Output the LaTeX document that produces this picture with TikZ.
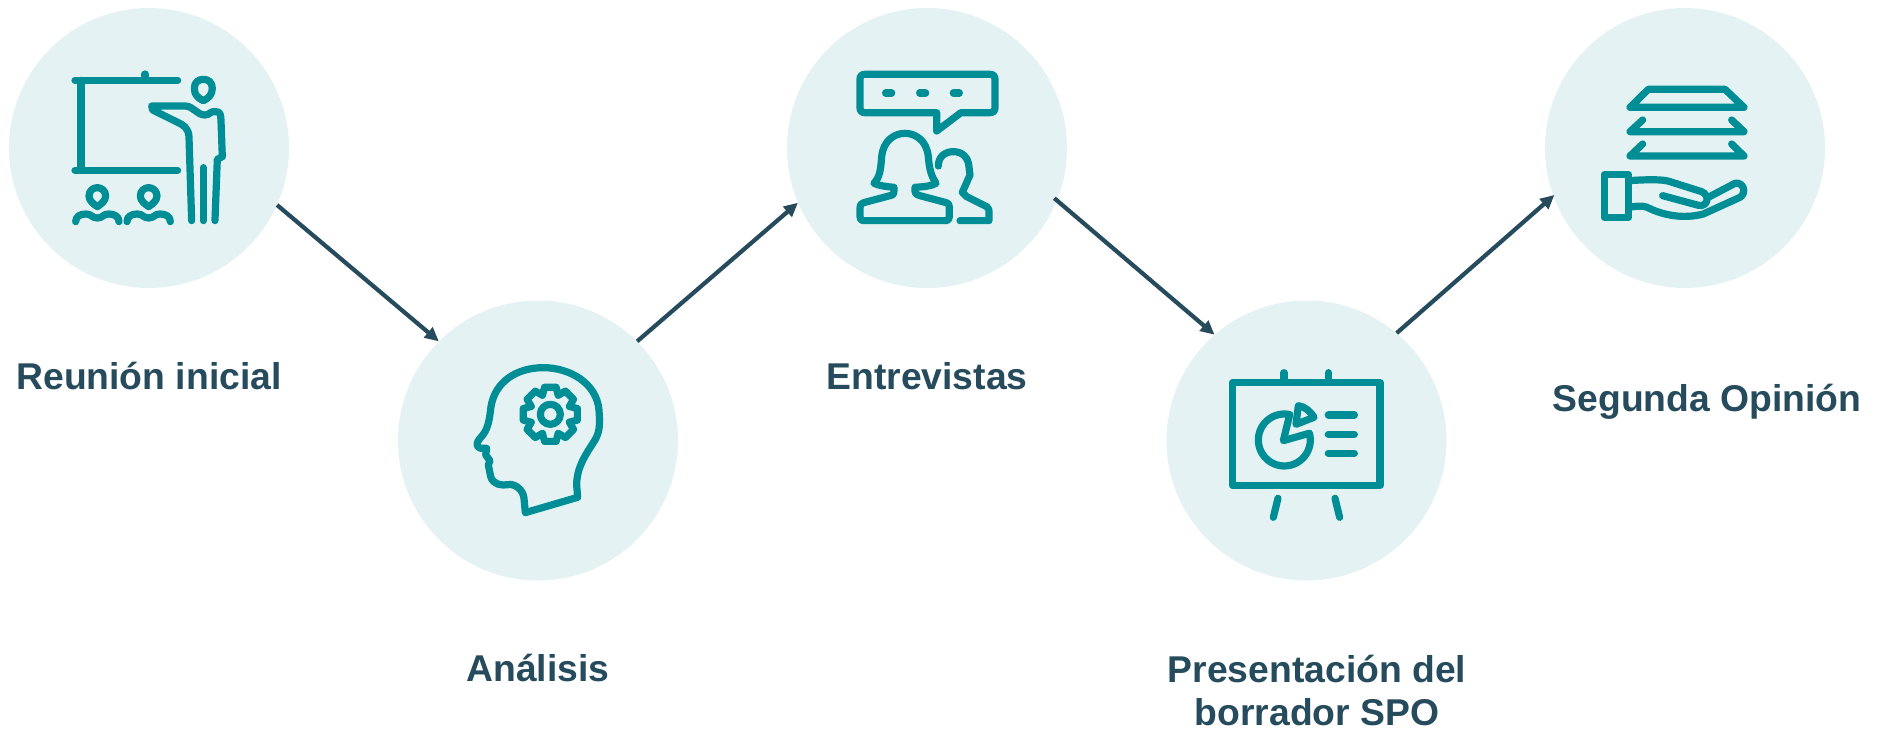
\documentclass[tikz,border=0pt]{standalone}
\usepackage{fontspec}
\setmainfont{Liberation Sans}
\usetikzlibrary{arrows.meta}
\definecolor{teal1}{HTML}{008E96}
\definecolor{disc}{HTML}{E4F2F3}
\definecolor{ink}{HTML}{254B5C}
\tikzset{
  disc/.style={circle,fill=disc,draw=none,minimum size=280pt,inner sep=0pt},
  lbl/.style={text=ink,font=\fontsize{37.3}{43}\selectfont\bfseries,align=center,inner sep=0pt},
  link/.style={draw=ink,line width=4.2pt,-{Triangle[length=14pt,width=13pt]}},
  ico/.style={draw=teal1,line width=7.2pt,line cap=round,line join=round},
  zoomed/.style={x=0.3333pt,y=-0.3333pt},
}
\begin{document}
\begin{tikzpicture}[x=1pt,y=-1pt]
\useasboundingbox (0,0) rectangle (1883,730);
\node[disc] (c1) at (149,148) {};
\node[disc] (c2) at (538,440.5) {};
\node[disc] (c3) at (927,148) {};
\node[disc] (c4) at (1306.5,440.5) {};
\node[disc] (c5) at (1685,148) {};
\draw[link] (c1.-24.5) -- (c2.135.4);
\draw[link] (c2.45.5) -- (c3.203.7);
\draw[link,shorten <=-3.5pt] (c3.-22.6) -- (c4.131.8);
\draw[link,shorten >=-1.5pt] (c4.50.5) -- (c5.200.6);
\node[lbl] (t1) at (149,376) {Reunión inicial};
\node[lbl] (t2) at (538,668) {Análisis};
\node[lbl] (t3) at (927,376) {Entrevistas};
\node[lbl] (t4) at (1317,690) {Presentación del\\borrador SPO};
\node[lbl] (t5) at (1707,402) {Segunda Opinión};
% icon 1
\begin{scope}[zoomed,every path/.style={ico}]
\draw (225,241) -- (533,241);
\draw (435,222) -- (435,241);
\draw (243,241) -- (243,511);
\draw (225,511) -- (533,511);
\draw (610,302) .. controls (595,295) and (583,285) .. (583,265) .. controls (583,247) and (595,238) .. (610,238) .. controls (625,238) and (637,247) .. (637,265) .. controls (637,285) and (625,295) .. (610,302) -- cycle;
\draw (575,662) -- (567,410) .. controls (566,385) and (550,375) .. (535,368) -- (458,330) -- (455,318) -- (555,318) .. controls (580,318) and (590,345) .. (615,345) .. controls (630,345) and (630,333) .. (645,335) .. controls (660,335) and (662,340) .. (663,360) -- (667,470) -- (652,478) -- (645,662);
\draw (610,503) -- (610,662);
\foreach \dx in {0,154}{
  \begin{scope}[xshift=\dx*0.3333pt]
  \draw (292,620) .. controls (280,612) and (267,602) .. (267,588) .. controls (267,572) and (280,563) .. (292,563) .. controls (304,563) and (317,572) .. (317,588) .. controls (317,602) and (304,612) .. (292,620) -- cycle;
  \draw (227,665) .. controls (227,650) and (240,642) .. (258,642) .. controls (275,642) and (275,654) .. (292,654) .. controls (309,654) and (309,642) .. (326,642) .. controls (344,642) and (357,650) .. (357,665);
  \end{scope}
}
\end{scope}
% icon 2
\begin{scope}[shift={(420,320)},zoomed,every path/.style={ico}]
\draw (316,578) -- (473,532) -- (470,495) .. controls (470,440) and (500,400) .. (525,360) .. controls (540,335) and (540,310) .. (537,270) .. controls (530,190) and (450,143) .. (370,143) .. controls (290,143) and (225,185) .. (213,260) .. controls (208,300) and (205,330) .. (180,355) .. controls (168,368) and (168,382) .. (182,385) -- (200,385) -- (197,405) -- (210,422) -- (205,435) -- (212,470) .. controls (220,495) and (245,497) .. (265,494) .. controls (285,490) and (310,510) .. (312,535) -- cycle;
\draw (391,283) circle [radius=30];
\begin{scope}[shift={(391,283)}]
\foreach \a in {0,45,...,315}{
  \draw (\a-22.5:62) -- (\a-12:83) -- (\a+12:83) -- (\a+22.5:62);
}
\end{scope}
\end{scope}
% icon 3
\begin{scope}[shift={(800,30)},zoomed,every path/.style={ico}]
\draw (410,248) -- (195,248) .. controls (185,248) and (180,243) .. (180,233) -- (180,148) .. controls (180,138) and (185,133) .. (195,133) -- (570,133) .. controls (580,133) and (585,138) .. (585,148) -- (585,233) .. controls (585,243) and (580,248) .. (570,248) -- (483,248) -- (410,303) -- cycle;
\draw[line width=7.3pt] (257,189) -- (275,189) (359,189) -- (377,189) (460,189) -- (478,189);
\draw (190,572) -- (438,572) .. controls (445,572) and (448,568) .. (448,560) -- (448,535) .. controls (448,522) and (445,520) .. (435,517) -- (360,497) .. controls (345,493) and (345,488) .. (345,478) -- (345,472) .. controls (375,470) and (395,468) .. (408,460) .. controls (395,440) and (388,420) .. (385,380) .. controls (380,330) and (345,310) .. (315,310) .. controls (285,310) and (250,330) .. (245,380) .. controls (242,420) and (240,440) .. (222,460) .. controls (240,468) and (260,470) .. (282,472) -- (282,480) .. controls (282,492) and (280,495) .. (270,497) -- (195,517) .. controls (185,520) and (180,523) .. (180,535) -- (180,560) .. controls (180,568) and (183,572) .. (190,572) -- cycle;
\draw (415,408) .. controls (415,380) and (435,365) .. (460,365) .. controls (490,365) and (505,385) .. (507,410) -- (510,435) -- (487,487) -- (500,500) -- (560,530) .. controls (567,535) and (567,540) .. (567,545) -- (567,572) -- (480,572);
\end{scope}
% icon 4
\begin{scope}[shift={(1190,340)},zoomed,every path/.style={ico}]
\draw (128,127) rectangle (570,437);
\draw (282,98) -- (282,127) (416,98) -- (416,127);
\draw (264,475) -- (250,532) (435,475) -- (449,532);
\draw plot[domain=-78:-375,samples=40,smooth] ({283+78*cos(\x)},{300+78*sin(\x)}) -- (280,302) -- cycle;
\draw (318,253) -- (325,197) .. controls (345,200) and (362,215) .. (372,232) -- cycle;
\draw[line width=7.3pt] (415,225) -- (493,225) (415,283) -- (493,283) (415,340) -- (493,340);
\end{scope}
% icon 5
\begin{scope}[shift={(1570,60)},zoomed,every path/.style={ico}]
\draw (180,142) -- (235,88) -- (465,88) -- (522,142) -- cycle;
\draw (218,180) -- (180,215) -- (522,215) -- (485,180);
\draw (218,252) -- (180,288) -- (522,288) -- (485,252);
\draw (103,344) rectangle (176,472);
\draw (176,362) .. controls (240,358) and (280,358) .. (300,365) -- (395,395) .. controls (420,405) and (415,442) .. (385,436) -- (278,407);
\draw (176,442) .. controls (215,436) and (225,438) .. (240,446) .. controls (280,465) and (340,478) .. (400,462) -- (510,412) .. controls (530,400) and (522,365) .. (495,370) -- (415,412);
\end{scope}
\end{tikzpicture}
\end{document}
